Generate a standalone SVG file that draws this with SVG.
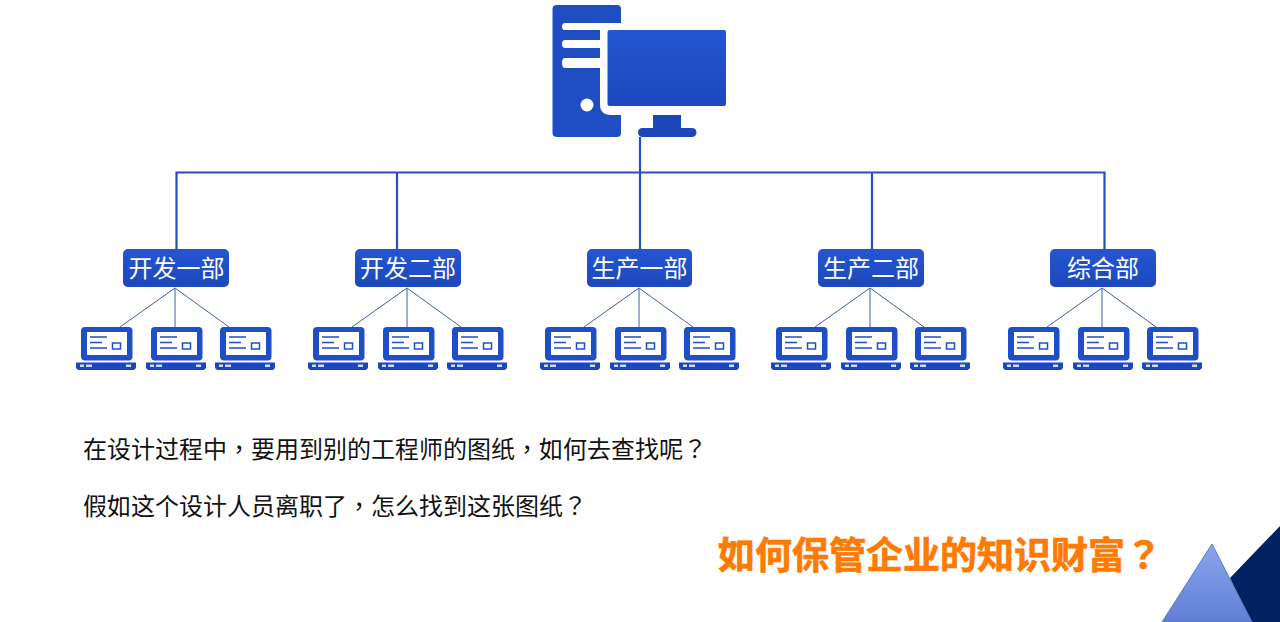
<svg xmlns="http://www.w3.org/2000/svg" width="1280" height="622" viewBox="0 0 1280 622">
<style>
.t{font-family:"Liberation Sans","Noto Sans CJK TC",sans-serif}
.dept{fill:url(#b);}
.dl{font-size:24px;fill:#fff;text-anchor:middle;font-family:"Liberation Sans","Noto Sans CJK SC",sans-serif}
.body{font-size:24px;fill:#111}
.title{font-size:37px;font-weight:700;fill:#ff7a00;stroke:#ff7a00;stroke-width:.7}
.trunk{fill:none;stroke:#2a4fb8;stroke-width:2.2}
.thin{fill:none;stroke:#3f5f9f;stroke-width:1}
</style>
<defs>
<linearGradient id="b" x1="0" y1="0" x2="0" y2="1"><stop offset="0" stop-color="#2456d2"/><stop offset="1" stop-color="#1c48bc"/></linearGradient>
<linearGradient id="tri" x1="0" y1="0" x2="0" y2="1"><stop offset="0" stop-color="#8ba6ee"/><stop offset="1" stop-color="#5f7fd6"/></linearGradient>
<g id="laptop">
<rect x="5" y="0" width="51.500" height="33.500" rx="4" fill="#1f4fc8"/>
<rect x="11" y="5" width="40" height="23" fill="#fff"/>
<path d="M14 10H31M14 15.500H26M14 21H31" stroke="#1f4fc8" stroke-width="1.500" fill="none"/>
<rect x="36.500" y="16" width="8" height="6" fill="#fff" stroke="#1f4fc8" stroke-width="1.500"/>
<path d="M0 35.500H60V41L58 43H2L0 41Z" fill="#1b47bd"/>
<rect x="4" y="37.500" width="4" height="2.500" fill="#cfdcf8"/><rect x="10" y="37.500" width="6" height="2.500" fill="#cfdcf8"/><rect x="50" y="37.500" width="5" height="2.500" fill="#cfdcf8"/>
</g>
</defs>
<rect width="1280" height="622" fill="#fff"/>
<g id="connectors">
<path class="trunk" d="M640 137V249M176.500 249V172.500H1104.500V249M397 172.500V249M872 172.500V249"/>
<path class="thin" d="M175 288L120 327M175 288V327M175 288L229 327M407 288L352 327M407 288V327M407 288L461 327M639 288L584 327M639 288V327M639 288L693 327M870 288L815 327M870 288V327M870 288L924 327M1102 288L1047 327M1102 288V327M1102 288L1156 327"/>
</g>
<g id="server">
<path d="M557 5H617Q621 5 621 9V23H565Q562 23 562 26.500Q562 30 565 30H600V40H565Q562 40 562 44Q562 48 565 48H600V58H565Q562 58 562 63Q562 68 565 68H600V104Q600 115 611 115H621V133Q621 137 617 137H557Q552.500 137 552.500 133V9Q552.500 5 557 5Z" fill="#1f4ec4"/>
<circle cx="587" cy="105" r="6.500" fill="#fff"/>
<rect x="607.500" y="30" width="118.500" height="76" rx="2" fill="url(#b)"/>
<rect x="653" y="115" width="28" height="14" fill="#1b47b8"/>
<rect x="638" y="128" width="58.500" height="9" rx="4.500" fill="#1b47b8"/>
</g>
<g id="dept1"><rect class="dept" x="123" y="249" width="106" height="38" rx="5"/><text class="dl" x="176.500" y="277">开发一部</text></g>
<g id="dept2"><rect class="dept" x="355" y="249" width="106" height="38" rx="5"/><text class="dl" x="408" y="277">开发二部</text></g>
<g id="dept3"><rect class="dept" x="587" y="249" width="105" height="38" rx="5"/><text class="dl" x="639.500" y="277">生产一部</text></g>
<g id="dept4"><rect class="dept" x="818" y="249" width="106" height="38" rx="5"/><text class="dl" x="871" y="277">生产二部</text></g>
<g id="dept5"><rect class="dept" x="1050" y="249" width="106" height="38" rx="5"/><text class="dl" x="1103" y="277">综合部</text></g>
<g id="laptops1"><use href="#laptop" x="76" y="327"/><use href="#laptop" x="146" y="327"/><use href="#laptop" x="215" y="327"/></g>
<g id="laptops2"><use href="#laptop" x="308" y="327"/><use href="#laptop" x="378" y="327"/><use href="#laptop" x="447" y="327"/></g>
<g id="laptops3"><use href="#laptop" x="540" y="327"/><use href="#laptop" x="610" y="327"/><use href="#laptop" x="679" y="327"/></g>
<g id="laptops4"><use href="#laptop" x="771" y="327"/><use href="#laptop" x="841" y="327"/><use href="#laptop" x="910" y="327"/></g>
<g id="laptops5"><use href="#laptop" x="1003" y="327"/><use href="#laptop" x="1073" y="327"/><use href="#laptop" x="1142" y="327"/></g>
<text class="t body" x="83" y="458">在设计过程中，要用到别的工程师的图纸，如何去查找呢？</text>
<text class="t body" x="83" y="515">假如这个设计人员离职了，怎么找到这张图纸？</text>
<text class="t title" x="718" y="569">如何保管企业的知识财富？</text>
<g id="corner">
<path d="M1280 526V622H1250L1230 578Z" fill="#002060"/>
<path d="M1212 544L1252 622H1162Z" fill="url(#tri)" stroke="#5b7cc0" stroke-width="1"/>
</g>
</svg>
